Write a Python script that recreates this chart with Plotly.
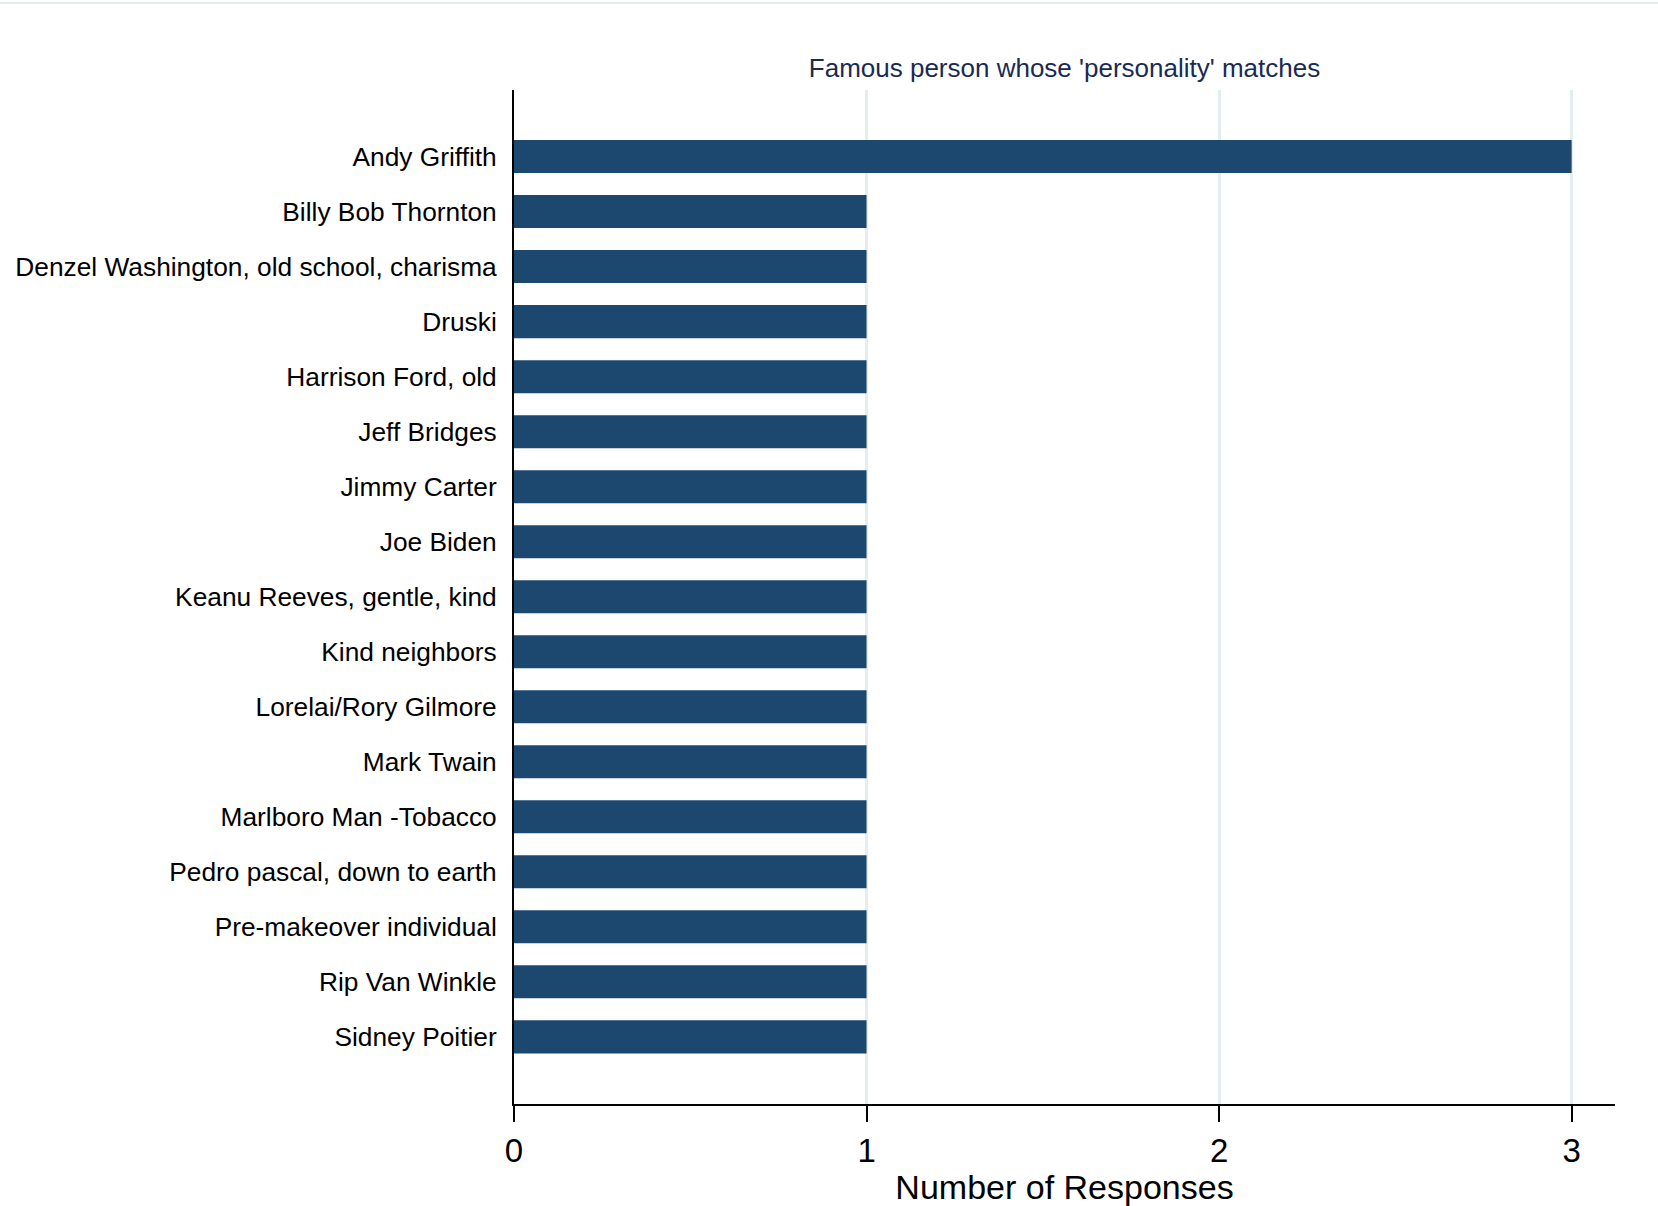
import plotly.graph_objects as go

categories = [
    "Andy Griffith",
    "Billy Bob Thornton",
    "Denzel Washington, old school, charisma",
    "Druski",
    "Harrison Ford, old",
    "Jeff Bridges",
    "Jimmy Carter",
    "Joe Biden",
    "Keanu Reeves, gentle, kind",
    "Kind neighbors",
    "Lorelai/Rory Gilmore",
    "Mark Twain",
    "Marlboro Man -Tobacco",
    "Pedro pascal, down to earth",
    "Pre-makeover individual",
    "Rip Van Winkle",
    "Sidney Poitier",
]
counts = [3, 1, 1, 1, 1, 1, 1, 1, 1, 1, 1, 1, 1, 1, 1, 1, 1]
x_ticks = [0, 1, 2, 3]

W, H = 1658, 1206
ml, mr, mt, mb = 514, 43, 90, 102
pw, ph = W - ml - mr, H - mt - mb

fig = go.Figure()
fig.add_trace(go.Bar(
    x=counts,
    y=list(range(len(categories))),
    orientation="h",
    marker=dict(color="#1c4870", line=dict(width=0)),
    width=0.6,
    hoverinfo="x+text",
    text=categories,
    textposition="none",
))

n = len(categories)
fig.update_layout(
    width=W, height=H,
    margin=dict(l=ml, r=mr, t=mt, b=mb),
    paper_bgcolor="white",
    plot_bgcolor="white",
    font=dict(family="Liberation Sans, Arial, sans-serif", color="black"),
    showlegend=False,
    bargap=0.4,
    title=dict(
        text="Famous person whose 'personality' matches",
        font=dict(size=26, color="#1a2a52"),
        x=(ml + pw / 2) / W, xanchor="center",
        y=1 - 68 / H, yanchor="middle",
    ),
    xaxis=dict(
        range=[0, 3.123],
        automargin=False,
        tickvals=x_ticks,
        ticktext=[str(v) for v in x_ticks],
        ticks="outside", ticklen=16, tickwidth=1.5, tickcolor="black",
        tickfont=dict(size=33),
        showgrid=True, gridcolor="#e4eeee", gridwidth=3,
        showline=True, linecolor="black", linewidth=2,
        zeroline=False,
        title=dict(text="Number of Responses", font=dict(size=34), standoff=0),
    ),
    yaxis=dict(
        range=[n - 1 + 1.22, -1.21],
        automargin=False,
        tickvals=list(range(n)),
        ticktext=categories,
        ticks="outside", ticklen=10, tickcolor="rgba(0,0,0,0)",
        tickfont=dict(size=26.3),
        showgrid=False,
        showline=True, linecolor="black", linewidth=2,
        zeroline=False,
    ),
)

# faint frame line at the very top of the graph region
fig.add_shape(
    type="line", xref="paper", yref="paper",
    x0=-ml / pw, x1=(W - ml) / pw,
    y0=(ph + mt - 3) / ph, y1=(ph + mt - 3) / ph,
    line=dict(color="#e6eded", width=2),
)

fig.write_html(
    "out.html",
    config={"displayModeBar": False},
    post_script="document.body.style.margin='0';document.body.style.overflow='hidden';",
)
